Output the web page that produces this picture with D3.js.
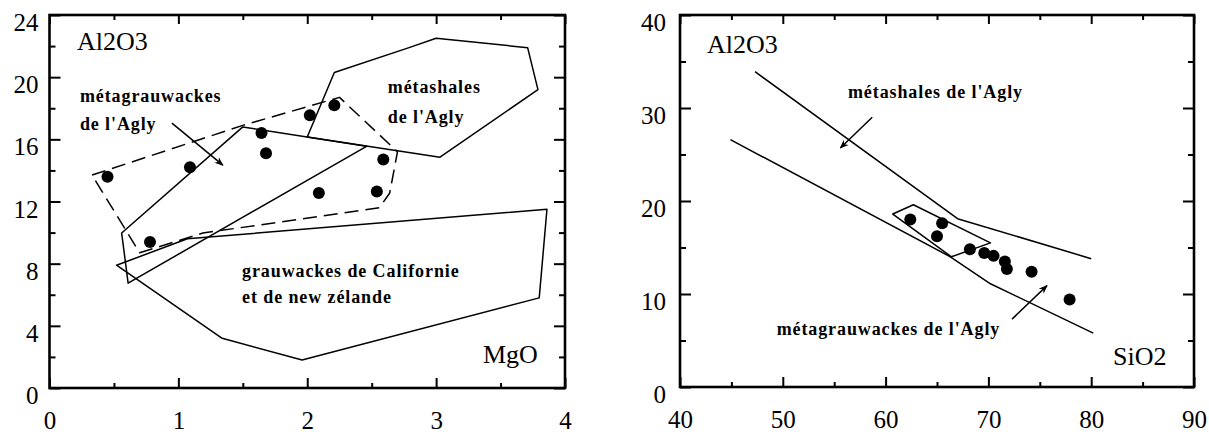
<!DOCTYPE html>
<html>
<head>
<meta charset="utf-8">
<script src="https://cdn.jsdelivr.net/npm/d3@7"></script>
<style>
  body { margin: 0; background: #fff; }
  .axis path { display: none; }
  .axis line { stroke: #000; stroke-width: 2; }
</style>
</head>
<body>
<svg id="chart" width="1209" height="436"></svg>
<script>
// ---- left panel : Al2O3 vs MgO ----
var mgo = [0.45, 1.09, 1.645, 1.68, 2.02, 2.21, 2.59, 2.09, 2.54, 0.78];
var al2o3A = [13.6, 14.2, 16.4, 15.1, 17.55, 18.2, 14.7, 12.55, 12.65, 9.4];
var mgoTicks = [0, 1, 2, 3, 4];
var mgoMinor = [0.5, 1.5, 2.5, 3.5];
var al2o3ATicks = [0, 4, 8, 12, 16, 20, 24];
var al2o3AMinor = [2, 6, 10, 14, 18, 22];
var metashalesA = [[2.0, 16.15], [2.21, 20.3], [2.79, 21.9], [3.0, 22.5], [3.71, 21.9], [3.79, 19.2], [3.03, 14.85]];
var metagrauwA = [[0.61, 6.75], [0.56, 9.97], [1.50, 16.8], [2.46, 15.55]];
var metagrauwDashA = [[0.33, 13.7], [1.50, 16.9], [2.25, 18.7], [2.70, 15.2], [2.64, 12.55], [2.56, 11.6], [1.19, 9.97], [0.70, 8.7]];
var grauwackesA = [[0.52, 7.9], [1.07, 9.6], [3.86, 11.5], [3.80, 5.8], [1.96, 1.8], [1.34, 3.2]];
var arrowA = [[0.95, 17.04], [1.345, 14.34]];

// ---- right panel : Al2O3 vs SiO2 ----
var sio2 = [62.4, 65.5, 65.0, 68.2, 69.6, 70.5, 71.6, 71.8, 74.2, 77.9];
var al2o3B = [18.0, 17.6, 16.2, 14.8, 14.4, 14.1, 13.5, 12.7, 12.4, 9.4];
var sio2Ticks = [40, 50, 60, 70, 80, 90];
var sio2Minor = [45, 55, 65, 75, 85];
var al2o3BTicks = [0, 10, 20, 30, 40];
var al2o3BMinor = [5, 15, 25, 35];
var upperLineB = [[47.3, 33.9], [67.0, 18.1], [80.0, 13.8]];
var lowerLineB = [[44.9, 26.6], [66.3, 14.0], [70.2, 11.1], [80.2, 5.8]];
var fieldB = [[60.7, 18.6], [62.7, 19.6], [70.2, 15.5], [66.4, 14.0]];
var arrowB1 = [[58.7, 29.0], [55.6, 25.7]];
var arrowB2 = [[72.3, 7.3], [75.7, 10.9]];

var serif = "'Liberation Serif', 'Times New Roman', Times, serif";
var svg = d3.select("#chart");

svg.append("defs").append("marker")
    .attr("id", "head")
    .attr("viewBox", "0 0 10 10")
    .attr("refX", 9).attr("refY", 5)
    .attr("markerWidth", 9).attr("markerHeight", 9)
    .attr("markerUnits", "userSpaceOnUse")
    .attr("orient", "auto")
    .append("path")
    .attr("d", "M0,1 L10,5 L0,9 L3,5 Z")
    .attr("fill", "#000");

function panel(cfg) {
    var x = d3.scaleLinear().domain(cfg.xd).range(cfg.xr);
    var y = d3.scaleLinear().domain(cfg.yd).range(cfg.yr);
    var g = svg.append("g");
    var x0 = cfg.xr[0], x1 = cfg.xr[1], y0 = cfg.yr[0], y1 = cfg.yr[1];

    // ticks, all pointing inward
    var bx = g.append("g").attr("class", "axis").attr("transform", "translate(0," + y0 + ")")
        .call(d3.axisBottom(x).tickValues(cfg.xt).tickSize(-10).tickPadding(23).tickFormat(d3.format("d")));
    g.append("g").attr("class", "axis").attr("transform", "translate(0," + y0 + ")")
        .call(d3.axisBottom(x).tickValues(cfg.xm).tickSize(-5).tickFormat(""));
    g.append("g").attr("class", "axis").attr("transform", "translate(0," + y1 + ")")
        .call(d3.axisTop(x).tickValues(cfg.xt).tickSize(-9).tickFormat(""));
    g.append("g").attr("class", "axis").attr("transform", "translate(0," + y1 + ")")
        .call(d3.axisTop(x).tickValues(cfg.xm).tickSize(-5).tickFormat(""));
    var la = g.append("g").attr("class", "axis").attr("transform", "translate(" + x0 + ",0)")
        .call(d3.axisLeft(y).tickValues(cfg.yt).tickSize(-11).tickPadding(cfg.lpad).tickFormat(d3.format("d")));
    la.selectAll("text").attr("dy", "0.62em");
    g.append("g").attr("class", "axis").attr("transform", "translate(" + x0 + ",0)")
        .call(d3.axisLeft(y).tickValues(cfg.ym).tickSize(-6).tickFormat(""));
    g.append("g").attr("class", "axis").attr("transform", "translate(" + x1 + ",0)")
        .call(d3.axisRight(y).tickValues(cfg.yt).tickSize(-11).tickFormat(""));
    g.append("g").attr("class", "axis").attr("transform", "translate(" + x1 + ",0)")
        .call(d3.axisRight(y).tickValues(cfg.ym).tickSize(-6).tickFormat(""));

    [bx, la].forEach(function(a) {
        a.attr("font-family", serif).attr("font-size", 25);
        a.selectAll("text").attr("fill", "#000");
    });

    g.append("rect")
        .attr("x", x0).attr("y", y1)
        .attr("width", x1 - x0).attr("height", y0 - y1)
        .attr("fill", "none").attr("stroke", "#000").attr("stroke-width", 2.6);

    return {g: g, x: x, y: y};
}

function lineFn(p, closed) {
    var l = d3.line().x(function(d) { return p.x(d[0]); }).y(function(d) { return p.y(d[1]); });
    if (closed) l.curve(d3.curveLinearClosed);
    return l;
}

function shape(p, pts, closed, dash) {
    p.g.append("path")
        .attr("d", lineFn(p, closed)(pts))
        .attr("fill", "none").attr("stroke", "#000").attr("stroke-width", 1.5)
        .attr("stroke-linejoin", "round")
        .attr("stroke-dasharray", dash || null);
}

function arrow(p, pts) {
    p.g.append("path")
        .attr("d", lineFn(p, false)(pts))
        .attr("fill", "none").attr("stroke", "#000").attr("stroke-width", 1.5)
        .attr("marker-end", "url(#head)");
}

function dots(p, xs, ys) {
    p.g.selectAll(".dot").data(xs).enter().append("circle")
        .attr("class", "dot")
        .attr("cx", function(d) { return p.x(d); })
        .attr("cy", function(d, i) { return p.y(ys[i]); })
        .attr("r", 6).attr("fill", "#000");
}

// bold = annotation label, otherwise axis name
function label(p, tx, ty, txt, bold) {
    var t = p.g.append("text")
        .attr("x", p.x(tx)).attr("y", p.y(ty))
        .attr("font-family", serif)
        .attr("fill", "#000")
        .text(txt);
    if (bold) t.attr("font-size", 18).attr("font-weight", "bold").attr("letter-spacing", 0.9);
    else t.attr("font-size", 26);
}

// left panel
var left = panel({xd: [0, 4], xr: [49.5, 565], yd: [0, 24], yr: [388, 15],
    xt: mgoTicks, xm: mgoMinor, yt: al2o3ATicks, ym: al2o3AMinor, lpad: 11});
shape(left, grauwackesA, true);
shape(left, metagrauwA, true);
shape(left, metashalesA, true);
shape(left, metagrauwDashA, true, "14,7");
arrow(left, arrowA);
dots(left, mgo, al2o3A);
label(left, 0.213, 21.75, "Al2O3");
label(left, 3.363, 1.61, "MgO");
label(left, 0.236, 18.4, "métagrauwackes", true);
label(left, 0.236, 16.6, "de l'Agly", true);
label(left, 2.625, 18.98, "métashales", true);
label(left, 2.625, 17.05, "de l'Agly", true);
label(left, 1.494, 7.14, "grauwackes de Californie", true);
label(left, 1.494, 5.47, "et de new zélande", true);

// right panel
var right = panel({xd: [40, 90], xr: [680, 1194], yd: [0, 40], yr: [387, 15],
    xt: sio2Ticks, xm: sio2Minor, yt: al2o3BTicks, ym: al2o3BMinor, lpad: 14});
shape(right, upperLineB, false);
shape(right, lowerLineB, false);
shape(right, fieldB, true);
arrow(right, arrowB1);
arrow(right, arrowB2);
dots(right, sio2, al2o3B);
label(right, 42.63, 35.9, "Al2O3");
label(right, 82.12, 2.37, "SiO2");
label(right, 56.34, 31.08, "métashales de l'Agly", true);
label(right, 49.4, 5.59, "métagrauwackes de l'Agly", true);
</script>
</body>
</html>
